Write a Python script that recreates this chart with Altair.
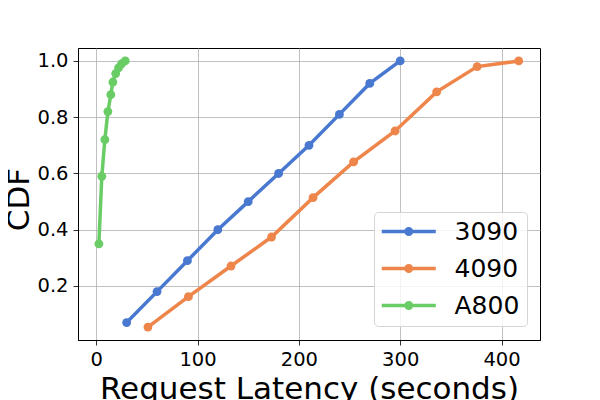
import altair as alt
import pandas as pd

series_names = ["3090", "4090", "A800"]
series_colors = ["#4878D0", "#EE854A", "#6ACC64"]

gpu_3090_x = [30, 60, 90, 120, 150, 180, 210, 240, 270, 300]
gpu_3090_y = [0.07, 0.18, 0.29, 0.40, 0.50, 0.60, 0.70, 0.81, 0.92, 1.0]

gpu_4090_x = [51, 91, 133, 173, 214, 254, 295, 336, 376, 417]
gpu_4090_y = [0.054, 0.162, 0.271, 0.374, 0.514, 0.641, 0.751, 0.890, 0.980, 1.0]

a800_x = [2.6, 5.5, 8.5, 11.5, 14.4, 16.4, 19.2, 22.0, 25.0, 28.6]
a800_y = [0.35, 0.59, 0.72, 0.82, 0.88, 0.925, 0.955, 0.975, 0.99, 1.0]

x_ticks = [0, 100, 200, 300, 400]
y_ticks = [0.2, 0.4, 0.6, 0.8, 1.0]

rows = []
for name, xs, ys in [("3090", gpu_3090_x, gpu_3090_y),
                     ("4090", gpu_4090_x, gpu_4090_y),
                     ("A800", a800_x, a800_y)]:
    for i, (xv, yv) in enumerate(zip(xs, ys)):
        rows.append({"gpu": name, "latency": xv, "cdf": yv, "order": i})
df = pd.DataFrame(rows)

FONT = "DejaVu Sans"

xenc = alt.X("latency:Q",
             scale=alt.Scale(domain=[-18, 438], nice=False, zero=False),
             axis=alt.Axis(values=x_ticks, title="Request Latency (seconds)",
                           titleFontSize=31, titleFont=FONT, titleFontWeight="normal",
                           titleColor="black", titleBaseline="alphabetic", titleY=58,
                           labelFontSize=19.5, labelFont=FONT, labelColor="black",
                           labelPadding=5, tickSize=5, tickColor="black", tickWidth=0.8,
                           domainColor="black", domainWidth=1,
                           grid=True, gridColor="#b0b0b0", gridWidth=0.8))
yenc = alt.Y("cdf:Q",
             scale=alt.Scale(domain=[0.008, 1.046], nice=False, zero=False),
             axis=alt.Axis(values=y_ticks, format=".1f", title="CDF",
                           titleFontSize=31, titleFont=FONT, titleFontWeight="normal",
                           titleColor="black", titleAngle=-90, titleBaseline="alphabetic",
                           titleX=-50, titleY=151, titleAlign="center",
                           labelFontSize=19.5, labelFont=FONT, labelColor="black",
                           labelPadding=5, tickSize=5, tickColor="black", tickWidth=0.8,
                           domainColor="black", domainWidth=1,
                           grid=True, gridColor="#b0b0b0", gridWidth=0.8))

legend_symbol = ("M-2.7,0L2.7,0M-0.27,0a0.27,0.27 0 1,0 0.54,0"
                 "a0.27,0.27 0 1,0 -0.54,0Z")

color = alt.Color("gpu:N",
                  scale=alt.Scale(domain=series_names, range=series_colors),
                  legend=alt.Legend(title=None, orient="none", legendX=296, legendY=164,
                                    symbolType=legend_symbol, symbolSize=400,
                                    symbolStrokeWidth=3.5, symbolOpacity=1,
                                    symbolOffset=15.25,
                                    labelFontSize=25, labelFont=FONT, labelColor="black",
                                    labelOffset=33.25, rowPadding=11, padding=7,
                                    fillColor="rgba(255,255,255,0.8)",
                                    strokeColor="#d5d5d5", cornerRadius=4))

base = alt.Chart(df).encode(x=xenc, y=yenc, color=color, order="order:Q")
lines = base.mark_line(strokeWidth=3.5, clip=False)
points = base.mark_point(filled=True, size=78, opacity=1)

chart = alt.layer(lines, points).properties(
    width=462, height=292,
    autosize=alt.AutoSizeParams(type="none"),
    padding={"left": 70, "top": 40, "right": 52, "bottom": 60},
).configure_view(stroke="black", strokeWidth=1)

chart.save("out.html", embed_options={"renderer": "svg", "actions": False})
